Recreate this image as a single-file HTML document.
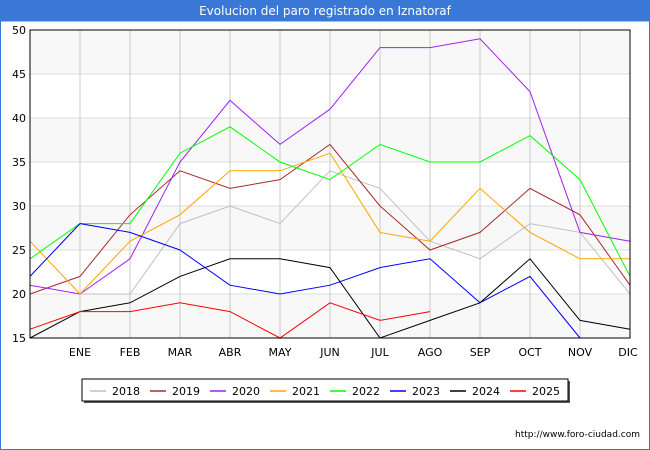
<!DOCTYPE html>
<html><head><meta charset="utf-8"><style>
body{margin:0;background:#fff;font-family:"DejaVu Sans","Liberation Sans",sans-serif}
#wrap{position:relative;width:650px;height:450px;overflow:hidden}
</style></head><body>
<div id="wrap">
<svg id="chart" width="650" height="450" xmlns="http://www.w3.org/2000/svg" style="position:absolute;left:0;top:0" font-family="DejaVu Sans, Liberation Sans, sans-serif">
<rect x="0" y="0" width="650" height="450" fill="#fff"/>
<rect x="0" y="0" width="650" height="21" fill="#3a78d8"/>
<text x="325" y="15" text-anchor="middle" fill="#fff" font-size="12">Evolucion del paro registrado en Iznatoraf</text>
<rect x="0.5" y="21" width="649" height="428.5" fill="none" stroke="#3a78d8"/>
<g id="grid"></g><g id="series"></g><g id="axes"></g>
<g id="legend"></g>
<text x="640" y="437" text-anchor="end" font-size="9" fill="#000">http://www.foro-ciudad.com</text>
</svg>
</div>
<script>
const months=["","ENE","FEB","MAR","ABR","MAY","JUN","JUL","AGO","SEP","OCT","NOV","DIC"];
const yTicks=[15,20,25,30,35,40,45,50];
const years=["2018","2019","2020","2021","2022","2023","2024","2025"];
const colors=["#c0c0c0","#a52a2a","#a020f0","#ffa500","#00ff00","#0000ff","#000000","#ff0000"];
const s2018=[null,20,20,28,30,28,34,32,26,24,28,27,20];
const s2019=[20,22,29,34,32,33,37,30,25,27,32,29,21];
const s2020=[21,20,24,35,42,37,41,48,48,49,43,27,26];
const s2021=[26,20,26,29,34,34,36,27,26,32,27,24,24];
const s2022=[24,28,28,36,39,35,33,37,35,35,38,33,22];
const s2023=[22,28,27,25,21,20,21,23,24,19,22,15,null];
const s2024=[15,18,19,22,24,24,23,15,17,19,24,17,16];
const s2025=[16,18,18,19,18,15,19,17,18];
const seriesData=[s2018,s2019,s2020,s2021,s2022,s2023,s2024,s2025];
const L=30,R=630,T=30,B=338,yMin=15,yMax=50;
const x=i=>L+i*(R-L)/(months.length-1);
const y=v=>B-(v-yMin)*(B-T)/(yMax-yMin);
const NS="http://www.w3.org/2000/svg";
function mk(tag,attrs,parent){const e=document.createElementNS(NS,tag);for(const k in attrs)e.setAttribute(k,attrs[k]);parent.appendChild(e);return e;}
const grid=document.getElementById('grid'),ser=document.getElementById('series'),ax=document.getElementById('axes'),lg=document.getElementById('legend');
for(let i=0;i<yTicks.length-1;i++){
  const r=mk('rect',{x:L,y:y(yTicks[i+1]),width:R-L,height:y(yTicks[i])-y(yTicks[i+1]),fill:(i%2===0)?'#f8f8f8':'#ffffff'},grid);
  
  
}
yTicks.forEach(t=>{
  const l=mk('line',{x1:L,x2:R,y1:y(t),y2:y(t),stroke:'#dddddd','stroke-width':1},grid);
  
  
  const tx=mk('text',{x:L-4,y:y(t)+4,'text-anchor':'end','font-size':11,fill:'#000'},ax);
  tx.textContent=t;
  
  
});
months.forEach((m,i)=>{
  if(i>0){
    const l=mk('line',{x1:x(i),x2:x(i),y1:T,y2:B,stroke:'#c8c8c8','stroke-width':1},grid);
    
    
  }
  if(m){
    const tx=mk('text',{x:x(i)-(i===12?2:0),y:356,'text-anchor':'middle','font-size':11,fill:'#000'},ax);
    tx.textContent=m;
    
    
  }
});
const fr=mk('rect',{x:L,y:T,width:R-L,height:B-T,fill:'none',stroke:'#000','stroke-width':1},ax);


seriesData.forEach((d,k)=>{
  let p='';
  d.forEach((v,i)=>{if(v!==null)p+=(p?'L':'M')+x(i)+','+y(v);});
  const pa=mk('path',{d:p,fill:'none',stroke:colors[k],'stroke-width':1},ser);
  
  
});
mk('rect',{x:84,y:381,width:486,height:22,fill:'#555'},lg);
mk('rect',{x:82,y:379,width:486,height:22,fill:'#fff',stroke:'#000','stroke-width':1},lg);
years.forEach((yr,k)=>{
  const bx=90+k*60;
  const l=mk('line',{x1:bx,x2:bx+16,y1:391,y2:391,stroke:colors[k],'stroke-width':1.5},lg);
  
  
  const t=mk('text',{x:bx+22,y:395,'font-size':11,fill:'#000'},lg);
  t.textContent=yr;
  
  
});
</script>
</body></html>
